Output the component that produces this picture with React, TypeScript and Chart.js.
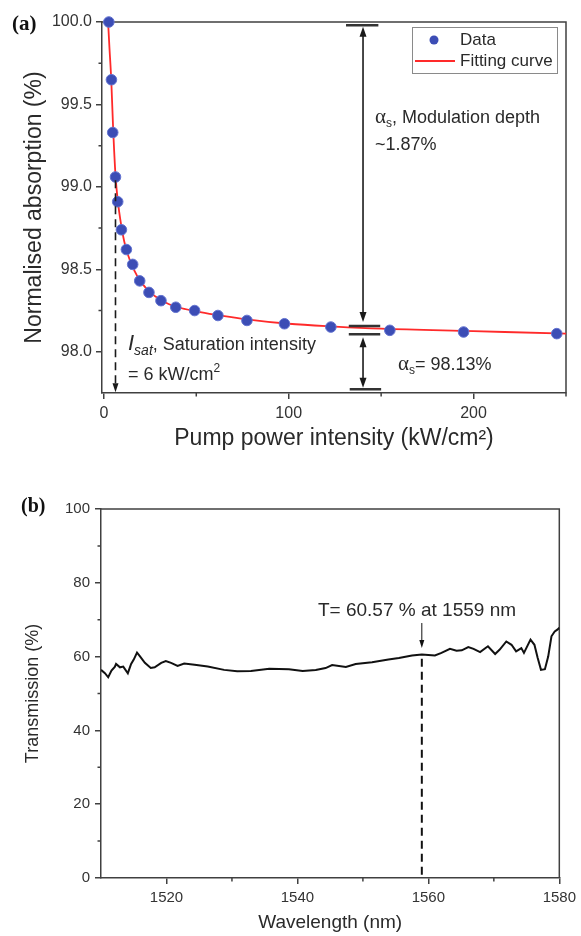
import React, { useEffect, useRef } from "react";
import { Chart, registerables } from "chart.js";
Chart.register(...registerables);

// ---------- Data (a) ----------
const pumpIntensity = [2.7, 4.1, 4.8, 6.3, 7.5, 9.5, 12.2, 15.6, 19.4, 24.4, 30.9, 38.9, 49.1, 61.7, 77.4, 97.7, 122.8, 154.7, 194.6, 245];
const absorption = [100.0, 99.65, 99.33, 99.06, 98.91, 98.74, 98.62, 98.53, 98.43, 98.36, 98.31, 98.27, 98.25, 98.22, 98.19, 98.17, 98.15, 98.13, 98.12, 98.11];
const fitIntensity = [2.2, 3.0, 4.0, 5.0, 6.3, 7.5, 9.5, 11, 13, 15, 18, 21, 25, 30, 35, 40, 50, 60, 75, 100, 125, 150, 200, 250];
const fitAbsorption = [100.02, 99.85, 99.65, 99.36, 99.07, 98.92, 98.76, 98.67, 98.59, 98.53, 98.46, 98.41, 98.36, 98.32, 98.29, 98.27, 98.245, 98.225, 98.2, 98.17, 98.153, 98.14, 98.125, 98.11];
const absYTicks = [98.0, 98.5, 99.0, 99.5, 100.0];
const absYMinor = [98.25, 98.75, 99.25, 99.75];
const pumpXTicks = [0, 100, 200];
const pumpXMinor = [50, 150, 250];

// ---------- Data (b) ----------
const wavelength = [1510.0, 1510.6, 1511.1, 1511.6, 1512.1, 1512.3, 1512.9, 1513.4, 1514.1, 1514.6, 1515.0, 1515.5, 1515.9, 1516.7, 1517.6, 1518.2, 1519.2, 1519.9, 1520.7, 1521.7, 1522.7, 1524.3, 1526.3, 1528.8, 1530.8, 1532.9, 1535.7, 1538.7, 1540.8, 1542.8, 1544.3, 1545.3, 1547.4, 1548.9, 1551.4, 1553.9, 1555.5, 1557.5, 1559.0, 1561.0, 1562.0, 1563.3, 1564.3, 1565.1, 1566.1, 1566.9, 1567.9, 1569.1, 1570.2, 1570.9, 1571.9, 1572.7, 1573.4, 1574.2, 1574.6, 1575.6, 1576.2, 1576.7, 1577.2, 1577.8, 1578.3, 1578.8, 1579.3, 1579.7, 1580.0];
const transmission = [56.4, 55.5, 54.4, 56.2, 57.2, 58.0, 57.1, 57.3, 55.5, 58.0, 59.2, 61.1, 60.2, 58.3, 56.9, 57.1, 58.3, 58.8, 58.3, 57.5, 58.1, 57.8, 57.3, 56.4, 56.0, 56.1, 56.7, 56.6, 56.1, 56.4, 56.9, 57.7, 57.2, 58.0, 58.5, 59.2, 59.6, 60.3, 60.6, 60.3, 61.0, 62.1, 61.6, 61.7, 62.6, 62.1, 61.2, 62.8, 60.7, 61.9, 64.1, 63.2, 61.4, 62.3, 61.0, 64.6, 63.2, 59.6, 56.4, 56.6, 60.0, 65.5, 66.8, 67.3, 67.8];
const wlTicks = [1520, 1540, 1560, 1580];
const wlMinor = [1530, 1550, 1570];
const trTicks = [0, 20, 40, 60, 80, 100];
const trMinor = [10, 30, 50, 70, 90];

const SANS = '"Liberation Sans", Arial, Helvetica, sans-serif';
const SERIF = '"Liberation Serif", "Times New Roman", serif';
const AX = "#404040";
const TXT = "#2a2a2a";

type Seg = { t: string; f: string; dy?: number };
function rich(ctx: CanvasRenderingContext2D, x: number, y: number, segs: Seg[], align: "left" | "center" = "left") {
  ctx.textBaseline = "alphabetic";
  ctx.textAlign = "left";
  let total = 0;
  for (const s of segs) { ctx.font = s.f; total += ctx.measureText(s.t).width; }
  let cx = align === "center" ? x - total / 2 : x;
  for (const s of segs) {
    ctx.font = s.f;
    ctx.fillText(s.t, cx, y + (s.dy || 0));
    cx += ctx.measureText(s.t).width;
  }
}
function arrowHead(ctx: CanvasRenderingContext2D, x: number, y: number, dir: number, w: number, h: number) {
  ctx.beginPath();
  ctx.moveTo(x, y);
  ctx.lineTo(x - w / 2, y - dir * h);
  ctx.lineTo(x + w / 2, y - dir * h);
  ctx.closePath();
  ctx.fill();
}

function framePlugin(xMinor: number[], yMinor: number[]) {
  return {
    id: "frameMinor",
    beforeDatasetsDraw(chart: any) {
      const { ctx, chartArea: a, scales } = chart;
      ctx.save();
      ctx.strokeStyle = AX;
      ctx.lineWidth = 1.5;
      ctx.beginPath();
      ctx.moveTo(a.left, a.top);
      ctx.lineTo(a.right, a.top);
      ctx.lineTo(a.right, a.bottom);
      ctx.stroke();
      ctx.beginPath();
      for (const v of xMinor) {
        const p = scales.x.getPixelForValue(v);
        ctx.moveTo(p, a.bottom);
        ctx.lineTo(p, a.bottom + 3.5);
      }
      for (const v of yMinor) {
        const p = scales.y.getPixelForValue(v);
        ctx.moveTo(a.left, p);
        ctx.lineTo(a.left - 3.5, p);
      }
      ctx.stroke();
      ctx.restore();
    },
  };
}

const annotA = {
  id: "annotA",
  afterDatasetsDraw(chart: any) {
    const { ctx, scales } = chart;
    const X = (v: number) => scales.x.getPixelForValue(v);
    const Y = (v: number) => scales.y.getPixelForValue(v);
    ctx.save();
    ctx.strokeStyle = "#1a1a1a";
    ctx.fillStyle = "#1a1a1a";
    // Isat dashed arrow
    const xi = X(6.3);
    ctx.lineWidth = 1.6;
    ctx.setLineDash([8, 5]);
    ctx.beginPath();
    ctx.moveTo(xi, Y(99.04));
    ctx.lineTo(xi, Y(97.755) - 8);
    ctx.stroke();
    ctx.setLineDash([]);
    arrowHead(ctx, xi, Y(97.755), 1, 6, 9);
    // bars
    ctx.strokeStyle = "#333";
    ctx.lineWidth = 2.5;
    const bars: [number, number, number][] = [[99.98, 131, 148.5], [98.156, 132.5, 149.5], [98.107, 132.5, 149.5], [97.772, 133, 150]];
    for (const [yv, x0, x1] of bars) {
      ctx.beginPath();
      ctx.moveTo(X(x0), Y(yv));
      ctx.lineTo(X(x1), Y(yv));
      ctx.stroke();
    }
    // modulation depth arrow
    const xa = X(140.2);
    ctx.strokeStyle = "#1a1a1a";
    ctx.lineWidth = 1.6;
    const t1 = Y(99.98) + 1.5, b1 = Y(98.156) - 4;
    ctx.beginPath();
    ctx.moveTo(xa, t1 + 8);
    ctx.lineTo(xa, b1 - 8);
    ctx.stroke();
    arrowHead(ctx, xa, t1, -1, 7, 10);
    arrowHead(ctx, xa, b1, 1, 7, 10);
    // lower arrow
    const t2 = Y(98.107) + 3, b2 = Y(97.772) - 1.5;
    ctx.beginPath();
    ctx.moveTo(xa, t2 + 8);
    ctx.lineTo(xa, b2 - 8);
    ctx.stroke();
    arrowHead(ctx, xa, t2, -1, 7, 10);
    arrowHead(ctx, xa, b2, 1, 7, 10);
    // texts
    ctx.fillStyle = TXT;
    rich(ctx, 375, 123, [
      { t: "α", f: `21px ${SERIF}` },
      { t: "s", f: `12px ${SANS}`, dy: 4 },
      { t: ", Modulation depth", f: `18px ${SANS}` },
    ]);
    rich(ctx, 375, 150, [{ t: "~1.87%", f: `18px ${SANS}` }]);
    rich(ctx, 398, 370, [
      { t: "α", f: `21px ${SERIF}` },
      { t: "s", f: `12px ${SANS}`, dy: 4 },
      { t: "= 98.13%", f: `18px ${SANS}` },
    ]);
    rich(ctx, 128, 350, [
      { t: "I", f: `italic 22px ${SANS}` },
      { t: "sat", f: `italic 14px ${SANS}`, dy: 5 },
      { t: ", Saturation intensity", f: `18px ${SANS}` },
    ]);
    rich(ctx, 128, 380, [
      { t: "= 6 kW/cm", f: `18px ${SANS}` },
      { t: "2", f: `12px ${SANS}`, dy: -8 },
    ]);
    // panel label
    ctx.fillStyle = "#111";
    rich(ctx, 12, 30, [{ t: "(a)", f: `bold 21px ${SERIF}` }]);
    // legend
    const ds = chart.data.datasets;
    ctx.strokeStyle = "#8a8a8a";
    ctx.lineWidth = 1;
    ctx.strokeRect(412.5, 27.5, 145, 46);
    ctx.fillStyle = ds[0].pointBackgroundColor;
    ctx.beginPath();
    ctx.arc(434, 40, 4.5, 0, Math.PI * 2);
    ctx.fill();
    ctx.strokeStyle = ds[1].borderColor;
    ctx.lineWidth = 2;
    ctx.beginPath();
    ctx.moveTo(415, 61);
    ctx.lineTo(455, 61);
    ctx.stroke();
    ctx.fillStyle = TXT;
    ctx.font = `17px ${SANS}`;
    ctx.textAlign = "left";
    ctx.textBaseline = "middle";
    ctx.fillText(ds[0].label, 460, 40);
    ctx.fillText(ds[1].label, 460, 61);
    ctx.restore();
  },
};

const annotB = {
  id: "annotB",
  afterDatasetsDraw(chart: any) {
    const { ctx, scales } = chart;
    const X = (v: number) => scales.x.getPixelForValue(v);
    const Y = (v: number) => scales.y.getPixelForValue(v);
    ctx.save();
    ctx.strokeStyle = "#111";
    ctx.fillStyle = "#111";
    const x = X(1559);
    ctx.lineWidth = 2;
    ctx.setLineDash([8, 5]);
    ctx.beginPath();
    ctx.moveTo(x, Y(59.4));
    ctx.lineTo(x, Y(0));
    ctx.stroke();
    ctx.setLineDash([]);
    ctx.lineWidth = 1;
    ctx.beginPath();
    ctx.moveTo(x, Y(69.1));
    ctx.lineTo(x, Y(62.3) - 7);
    ctx.stroke();
    arrowHead(ctx, x, Y(62.3), 1, 5, 8);
    ctx.fillStyle = TXT;
    rich(ctx, 417, 146, [{ t: "T= 60.57 % at 1559 nm", f: `19px ${SANS}` }], "center");
    ctx.fillStyle = "#111";
    rich(ctx, 21, 42, [{ t: "(b)", f: `bold 20px ${SERIF}` }]);
    ctx.restore();
  },
};

function axisCommon(ticksArr: number[], fmt: (v: number) => string, fixSize: (s: any) => void, title: string, titleSize: number, titlePad: any, tickPad: number, tickSize: number) {
  return {
    type: "linear",
    afterFit: fixSize,
    afterBuildTicks: (s: any) => { s.ticks = ticksArr.map((v) => ({ value: v })); },
    ticks: { autoSkip: false, maxRotation: 0, font: { family: SANS, size: tickSize }, color: "#333", padding: tickPad, callback: (v: any) => fmt(Number(v)) },
    grid: { drawOnChartArea: false, drawTicks: true, tickLength: 6, color: AX, lineWidth: 1.5 },
    border: { display: true, color: AX, width: 1.5 },
    title: { display: true, text: title, font: { family: SANS, size: titleSize }, color: TXT, padding: titlePad },
  };
}

function configA(): any {
  return {
    type: "scatter",
    data: {
      datasets: [
        {
          label: "Data",
          data: pumpIntensity.map((x, i) => ({ x, y: absorption[i] })),
          pointRadius: 5.3,
          pointBackgroundColor: "#3c4db5",
          pointBorderColor: "#6373d0",
          pointBorderWidth: 1,
          showLine: false,
          clip: false,
          order: 0,
        },
        {
          label: "Fitting curve",
          data: fitIntensity.map((x, i) => ({ x, y: fitAbsorption[i] })),
          showLine: true,
          borderColor: "#ff2a2a",
          borderWidth: 1.8,
          pointRadius: 0,
          cubicInterpolationMode: "monotone",
          order: 1,
        },
      ],
    },
    options: {
      responsive: false,
      animation: false,
      layout: { padding: { left: 0, right: 15, top: 22, bottom: 0 } },
      plugins: { legend: { display: false }, tooltip: { enabled: false } },
      scales: {
        x: { ...axisCommon(pumpXTicks, (v) => String(v), (s) => { s.height = 77; }, "Pump power intensity (kW/cm²)", 23, { top: 0, bottom: 18 }, 5, 16), min: -1, max: 250 },
        y: { ...axisCommon(absYTicks, (v) => v.toFixed(1), (s) => { s.width = 102; }, "Normalised absorption (%)", 23, { top: 21, bottom: 0 }, 4, 16), min: 97.75, max: 100 },
      },
    },
    plugins: [framePlugin(pumpXMinor, absYMinor), annotA],
  };
}

function configB(): any {
  return {
    type: "scatter",
    data: {
      datasets: [
        {
          label: "Transmission",
          data: wavelength.map((x, i) => ({ x, y: transmission[i] })),
          showLine: true,
          borderColor: "#111",
          borderWidth: 2,
          pointRadius: 0,
          tension: 0,
        },
      ],
    },
    options: {
      responsive: false,
      animation: false,
      layout: { padding: { left: 0, right: 20, top: 39, bottom: 0 } },
      plugins: { legend: { display: false }, tooltip: { enabled: false } },
      scales: {
        x: { ...axisCommon(wlTicks, (v) => String(v), (s) => { s.height = 58; }, "Wavelength (nm)", 19, { top: 0, bottom: 2 }, 5, 15), min: 1510, max: 1580 },
        y: { ...axisCommon(trTicks, (v) => String(v), (s) => { s.width = 101; }, "Transmission (%)", 18, { top: 22, bottom: 0 }, 5, 15), min: 0, max: 100 },
      },
    },
    plugins: [framePlugin(wlMinor, trMinor), annotB],
  };
}

function ChartCanvas({ make, width, height, top }: { make: () => any; width: number; height: number; top: number }) {
  const ref = useRef<HTMLCanvasElement>(null);
  useEffect(() => {
    const chart = new Chart(ref.current as HTMLCanvasElement, make());
    return () => chart.destroy();
  }, []);
  return <canvas ref={ref} width={width} height={height} style={{ position: "absolute", left: 0, top, width, height }} />;
}

export default function App() {
  useEffect(() => {
    document.body.style.margin = "0";
    document.body.style.background = "#fff";
  }, []);
  return (
    <div style={{ position: "relative", width: 581, height: 936, background: "#fff", overflow: "hidden" }}>
      <ChartCanvas make={configA} width={581} height={470} top={0} />
      <ChartCanvas make={configB} width={581} height={466} top={470} />
    </div>
  );
}
